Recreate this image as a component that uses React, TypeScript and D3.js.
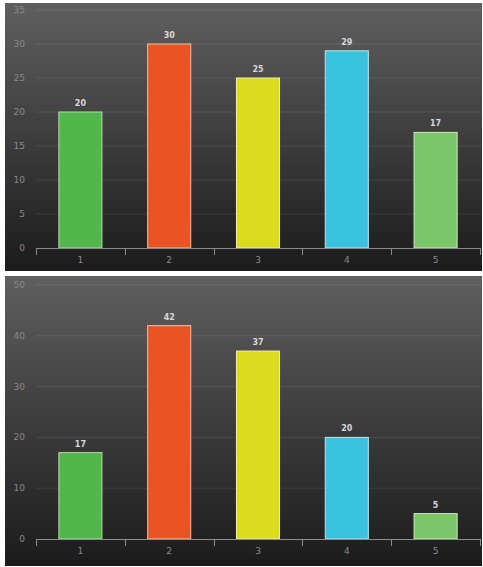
import React, { useRef, useEffect } from 'react';
import * as d3 from 'd3';

const categories = ['1', '2', '3', '4', '5'];
const topValues = [20, 30, 25, 29, 17];
const bottomValues = [17, 42, 37, 20, 5];
const topTicks = [0, 5, 10, 15, 20, 25, 30, 35];
const bottomTicks = [0, 10, 20, 30, 40, 50];
const barColors = ['#52b74a', '#e95425', '#dcdc1f', '#3ac3df', '#7cc66a'];
const barStrokes = ['#b4dcae', '#f0c2a4', '#eeeea8', '#bfe6f0', '#c9e8bf'];

const W = 483;
const H = 567;

const App = () => {
  const ref = useRef(null);

  useEffect(() => {
    const svg = d3.select(ref.current);
    svg.selectAll('*').remove();

    const defs = svg.append('defs');
    const grad = defs.append('linearGradient')
      .attr('id', 'panelGrad')
      .attr('x1', 0).attr('y1', 0).attr('x2', 0).attr('y2', 1);
    grad.append('stop').attr('offset', '0%').attr('stop-color', '#5f5f5f');
    grad.append('stop').attr('offset', '100%').attr('stop-color', '#1b1b1b');

    const drawChart = (values, ticks, max, panel) => {
      const g = svg.append('g');
      g.append('rect')
        .attr('x', panel.x0).attr('y', panel.y0)
        .attr('width', panel.x1 - panel.x0).attr('height', panel.y1 - panel.y0)
        .attr('fill', 'url(#panelGrad)');

      const x = d3.scaleBand().domain(categories).range([36, 480]).padding(0);
      const y = d3.scaleLinear().domain([0, max]).range([panel.base, panel.top]);

      // grid
      g.append('g')
        .selectAll('line')
        .data(ticks.filter(t => t > 0))
        .join('line')
        .attr('x1', 36).attr('x2', panel.x1)
        .attr('y1', d => y(d)).attr('y2', d => y(d))
        .attr('stroke', 'rgba(255,255,255,0.09)')
        .attr('stroke-width', 1);

      // y labels
      g.append('g')
        .attr('font-family', 'DejaVu Sans, sans-serif')
        .attr('font-size', 9)
        .attr('fill', '#8a8a8a')
        .attr('text-anchor', 'end')
        .selectAll('text')
        .data(ticks)
        .join('text')
        .attr('x', 25)
        .attr('y', d => y(d) + 3)
        .text(d => d);

      // bars
      const bw = x.bandwidth() * 0.485;
      g.append('g')
        .selectAll('rect')
        .data(values)
        .join('rect')
        .attr('x', (d, i) => x(categories[i]) + (x.bandwidth() - bw) / 2)
        .attr('y', d => y(d))
        .attr('width', bw)
        .attr('height', d => y(0) - y(d))
        .attr('fill', (d, i) => barColors[i])
        .attr('stroke', (d, i) => barStrokes[i])
        .attr('stroke-width', 1);

      // value labels
      g.append('g')
        .attr('font-family', 'DejaVu Sans, sans-serif')
        .attr('font-size', 8)
        .attr('font-weight', 'bold')
        .attr('fill', '#d8d8d8')
        .attr('text-anchor', 'middle')
        .selectAll('text')
        .data(values)
        .join('text')
        .attr('x', (d, i) => x(categories[i]) + x.bandwidth() / 2)
        .attr('y', d => y(d) - 6)
        .text(d => d);

      // x axis
      const ax = g.append('g');
      ax.append('line')
        .attr('x1', 36).attr('x2', 480)
        .attr('y1', y(0) + 0.5).attr('y2', y(0) + 0.5)
        .attr('stroke', '#8c8c8c');
      const edges = categories.map(c => x(c)).concat([x(categories[categories.length - 1]) + x.bandwidth()]);
      ax.selectAll('line.tick')
        .data(edges)
        .join('line')
        .attr('class', 'tick')
        .attr('x1', d => Math.round(d) + 0.5).attr('x2', d => Math.round(d) + 0.5)
        .attr('y1', y(0)).attr('y2', y(0) + 7)
        .attr('stroke', '#8c8c8c');
      ax.selectAll('text')
        .data(categories)
        .join('text')
        .attr('x', d => x(d) + x.bandwidth() / 2)
        .attr('y', y(0) + 15)
        .attr('font-family', 'DejaVu Sans, sans-serif')
        .attr('font-size', 9)
        .attr('fill', '#8a8a8a')
        .attr('text-anchor', 'middle')
        .text(d => d);
    };

    drawChart(topValues, topTicks, 35, { x0: 5, x1: 482, y0: 3, y1: 271, base: 248, top: 10 });
    drawChart(bottomValues, bottomTicks, 50, { x0: 5, x1: 482, y0: 276, y1: 566, base: 539, top: 285 });

    return () => {
      svg.selectAll('*').remove();
    };
  }, []);

  return (
    <svg
      ref={ref}
      width={W}
      height={H}
      style={{ position: 'absolute', left: 0, top: 0, background: '#fff' }}
    />
  );
};

export default App;
